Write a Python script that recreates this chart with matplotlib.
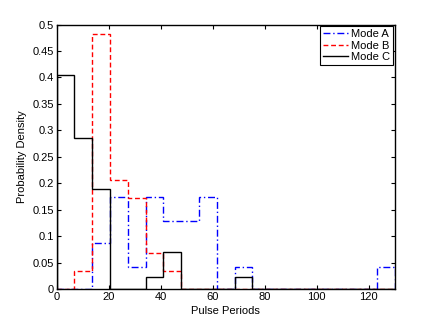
import numpy as np
import matplotlib
matplotlib.use("Agg")
import matplotlib.pyplot as plt

plt.rcParams['font.family'] = ['Liberation Sans', 'DejaVu Sans']

x_min, x_max, n_bins = 0, 130, 19
edges = np.linspace(x_min, x_max, n_bins + 1)

mode_a = [0, 0, 0.087, 0.174, 0.043, 0.174, 0.130, 0.130, 0.174, 0,
          0.043, 0, 0, 0, 0, 0, 0, 0, 0.043]
mode_b = [0, 0.0345, 0.483, 0.207, 0.172, 0.069, 0.0345, 0, 0, 0,
          0, 0, 0, 0, 0, 0, 0, 0, 0]
mode_c = [0.405, 0.286, 0.190, 0, 0, 0.024, 0.071, 0, 0, 0,
          0.024, 0, 0, 0, 0, 0, 0, 0, 0]

labels = ["Mode A", "Mode B", "Mode C"]
xticks = [0, 20, 40, 60, 80, 100, 120]
yticks = [0, 0.05, 0.1, 0.15, 0.2, 0.25, 0.3, 0.35, 0.4, 0.45, 0.5]
ytick_labels = ["0", "0.05", "0.1", "0.15", "0.2", "0.25", "0.3", "0.35", "0.4", "0.45", "0.5"]

fig = plt.figure(figsize=(4.36, 3.27), dpi=100)
ax = fig.add_axes([0.13, 0.115, 0.775, 0.81])

ax.stairs(mode_a, edges, baseline=0, color=(0, 0, 1), linestyle=(0, (5, 2, 1, 2)), linewidth=1.0, label=labels[0])
ax.stairs(mode_b, edges, baseline=0, color=(1, 0, 0), linestyle=(0, (3.5, 2)), linewidth=1.0, label=labels[1])
ax.stairs(mode_c, edges, baseline=0, color='black', linestyle='-', linewidth=1.0, label=labels[2])

ax.set_xlim(x_min, x_max)
ax.set_ylim(0, 0.5)
ax.set_xticks(xticks)
ax.set_yticks(yticks)
ax.set_yticklabels(ytick_labels)
ax.tick_params(direction='in', top=True, right=True, length=3, width=0.8, labelsize=8, pad=2)
for s in ax.spines.values():
    s.set_linewidth(1.0)

ax.set_xlabel("Pulse Periods", fontsize=8, labelpad=3)
ax.set_ylabel("Probability Density", fontsize=8, labelpad=4)

from matplotlib.lines import Line2D
handles = [Line2D([], [], color=(0, 0, 1), linestyle=(0, (5, 2, 1, 2)), linewidth=1.0),
           Line2D([], [], color=(1, 0, 0), linestyle=(0, (3.5, 2)), linewidth=1.0),
           Line2D([], [], color='black', linestyle='-', linewidth=1.0)]
leg = ax.legend(handles, labels, loc='upper right', fontsize=8, frameon=True, fancybox=False,
                edgecolor='black', framealpha=1, handlelength=2.2, handletextpad=0.3,
                borderpad=0.25, labelspacing=0.15, borderaxespad=0.15)
leg.get_frame().set_linewidth(0.8)

fig.savefig("out.png", dpi=100)
